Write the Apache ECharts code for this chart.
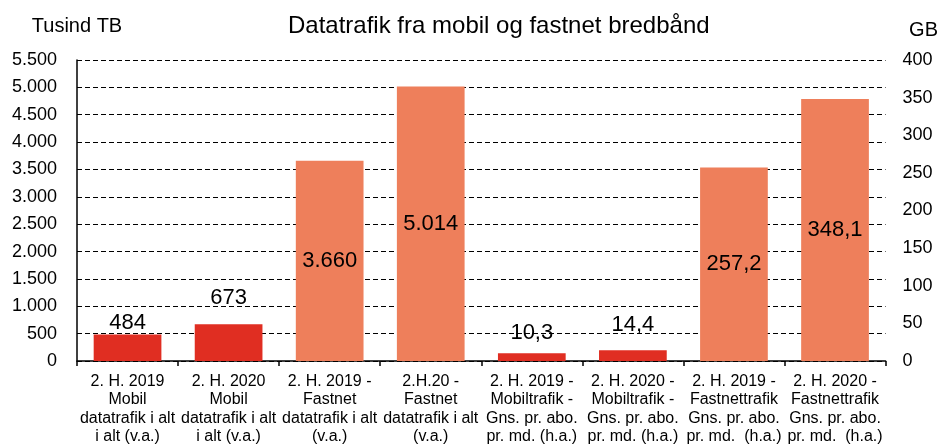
<!DOCTYPE html>
<html>
<head>
<meta charset="utf-8">
<script src="https://cdn.jsdelivr.net/npm/echarts@6/dist/echarts.min.js"></script>
<style>
html, body { margin: 0; padding: 0; background: #fff; }
#chart { width: 941px; height: 446px; }
</style>
</head>
<body>
<div id="chart"></div>
<script>
// kategorier og værdier
const categories = [
    '2. H. 2019\nMobil\ndatatrafik i alt\ni alt (v.a.)',
    '2. H. 2020\nMobil\ndatatrafik i alt\ni alt (v.a.)',
    '2. H. 2019 -\nFastnet\ndatatrafik i alt\n(v.a.)',
    '2.H.20 -\nFastnet\ndatatrafik i alt\n(v.a.)',
    '2. H. 2019 -\nMobiltrafik -\nGns. pr. abo.\npr. md. (h.a.)',
    '2. H. 2020 -\nMobiltrafik -\nGns. pr. abo.\npr. md. (h.a.)',
    '2. H. 2019 -\nFastnettrafik\nGns. pr. abo.\npr. md.  (h.a.)',
    '2. H. 2020 -\nFastnettrafik\nGns. pr. abo.\npr. md.  (h.a.)'
];
const totalTB = [484, 673, 3660, 5014, '-', '-', '-', '-'];      // venstre akse, tusind TB
const avgGB = ['-', '-', '-', '-', 10.3, 14.4, 257.2, 348.1];   // højre akse, GB
const isMobile = [true, true, false, false, true, true, false, false];

const RED = '#E02E22';
const ORANGE = '#EE7F5B';

function fmt(v, dec) {
    return v.toLocaleString('da-DK', { minimumFractionDigits: dec, maximumFractionDigits: dec });
}

// label placering pr. søjle (top = over, inside = midt i)
const labelDist = [1, 15, 0, 0, 9, 14, 0, 0];

function buildData(values, dec) {
    return values.map(function (v, i) {
        if (v === '-') return '-';
        const top = isMobile[i];
        return {
            value: v,
            itemStyle: { color: top ? RED : ORANGE },
            label: {
                show: true,
                position: top ? 'top' : 'inside',
                distance: labelDist[i],
                formatter: function (p) { return fmt(p.value, dec); }
            }
        };
    });
}

let myChart = echarts.init(document.getElementById('chart'));
let option = {
    backgroundColor: '#fff',
    animation: false,
    textStyle: { fontFamily: 'Liberation Sans, Arial, sans-serif' },
    title: {
        text: 'Datatrafik fra mobil og fastnet bredbånd',
        left: 283,
        top: 9,
        textStyle: { fontSize: 24, fontWeight: 'normal', color: '#000', fontFamily: 'Liberation Sans' }
    },
    grid: { left: 77, right: 55, top: 60, bottom: 84 },
    xAxis: {
        type: 'category',
        data: categories,
        axisLine: { lineStyle: { color: '#000', width: 1.5 } },
        axisTick: { show: true, length: 5, lineStyle: { color: '#000', width: 1.5 } },
        axisLabel: { interval: 0, color: '#000', fontSize: 16, lineHeight: 18.5, margin: 11 }
    },
    yAxis: [
        {
            type: 'value',
            name: 'Tusind TB',
            nameLocation: 'end',
            nameGap: 24,
            nameTextStyle: { color: '#000', fontSize: 20, align: 'center', padding: [0, 0, 0, 0] },
            min: 0,
            max: 5500,
            interval: 500,
            axisLine: { show: true, lineStyle: { color: '#000', width: 1.5 } },
            axisTick: { show: false },
            splitLine: { lineStyle: { color: '#000', type: [5, 3], width: 1.2 } },
            axisLabel: {
                color: '#000', fontSize: 18, margin: 20,
                formatter: function (v) { return fmt(v, 0); }
            }
        },
        {
            type: 'value',
            name: 'GB',
            nameLocation: 'end',
            nameGap: 20,
            nameTextStyle: { color: '#000', fontSize: 20, align: 'center', padding: [0, 0, 0, 76] },
            min: 0,
            max: 400,
            interval: 50,
            axisLine: { show: false },
            axisTick: { show: false },
            splitLine: { show: false },
            axisLabel: { color: '#000', fontSize: 18, margin: 17 }
        }
    ],
    series: [
        {
            name: 'Tusind TB',
            type: 'bar',
            yAxisIndex: 0,
            barWidth: '67%',
            barGap: '-100%',
            data: buildData(totalTB, 0),
            label: { color: '#000', fontSize: 22 }
        },
        {
            name: 'GB',
            type: 'bar',
            yAxisIndex: 1,
            barWidth: '67%',
            barGap: '-100%',
            data: buildData(avgGB, 1),
            label: { color: '#000', fontSize: 22 }
        }
    ]
};
myChart.setOption(option);
</script>
</body>
</html>
